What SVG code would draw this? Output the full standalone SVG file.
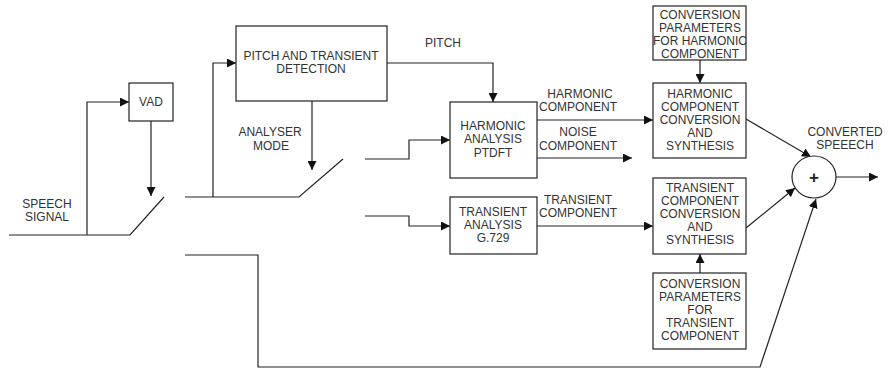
<svg xmlns="http://www.w3.org/2000/svg" width="891" height="372" viewBox="0 0 891 372">
<defs>
<marker id="arr" viewBox="0 0 10 10" refX="10" refY="5" markerWidth="9" markerHeight="9" markerUnits="userSpaceOnUse" orient="auto">
<path d="M0,0 L10,5 L0,10 Z" fill="#111"/>
</marker>
</defs>
<style>
rect.box{fill:#fff;stroke:#222;stroke-width:1.2}
.ln{fill:none;stroke:#222;stroke-width:1.2}
.ar{fill:none;stroke:#222;stroke-width:1.2;marker-end:url(#arr)}
text{font-family:"Liberation Sans",Arial,sans-serif;font-size:12px;fill:#333;text-anchor:middle}
</style>
<rect width="891" height="372" fill="#fff"/>
<g id="connectors">
<path class="ln" d="M9,235 H130 L164,197"/>
<path class="ar" d="M87,235 V102 H129"/>
<path class="ar" d="M151,121 V196"/>
<path class="ln" d="M185,197 H299 L343,159"/>
<path class="ar" d="M213,197 V63 H236"/>
<path class="ar" d="M312,101 V170"/>
<path class="ar" d="M387,63 H493 V102"/>
<path class="ar" d="M365,159 H409 V140 H450"/>
<path class="ar" d="M365,216 H409 V226 H450"/>
<path class="ar" d="M537,120 H653"/>
<path class="ar" d="M537,158 H632"/>
<path class="ar" d="M537,226 H653"/>
<path class="ar" d="M700,60 V83"/>
<path class="ar" d="M700,273 V254"/>
<path class="ar" d="M746,119 L811,157"/>
<path class="ar" d="M746,228 L795,188"/>
<path class="ar" d="M185,255 H258 V367 H760 L816,199"/>
<path class="ar" d="M836,177 H878"/>
</g>
<g id="speech-label"><text x="47" y="208">SPEECH</text><text x="47" y="221">SIGNAL</text></g>
<g id="vad"><rect class="box" x="129" y="83" width="44" height="38"/><text x="151" y="106">VAD</text></g>
<g id="pitch-detection"><rect class="box" x="236" y="26" width="151" height="75"/><text x="311" y="60">PITCH AND TRANSIENT</text><text x="311" y="73">DETECTION</text></g>
<g id="analyser-mode"><text x="270" y="136">ANALYSER</text><text x="271" y="150">MODE</text></g>
<g id="pitch-label"><text x="443" y="47">PITCH</text></g>
<g id="harmonic-analysis"><rect class="box" x="450" y="102" width="87" height="76"/><text x="493" y="130">HARMONIC</text><text x="493" y="143">ANALYSIS</text><text x="493" y="157">PTDFT</text></g>
<g id="transient-analysis"><rect class="box" x="450" y="197" width="87" height="57"/><text x="493" y="216">TRANSIENT</text><text x="493" y="229">ANALYSIS</text><text x="493" y="242">G.729</text></g>
<g id="harmonic-comp-label"><text x="580" y="98">HARMONIC</text><text x="578" y="111">COMPONENT</text></g>
<g id="noise-comp-label"><text x="578" y="136">NOISE</text><text x="578" y="150">COMPONENT</text></g>
<g id="transient-comp-label"><text x="578" y="204">TRANSIENT</text><text x="578" y="217">COMPONENT</text></g>
<g id="conv-params-harmonic"><rect class="box" x="653" y="6" width="93" height="54"/><text x="700" y="19">CONVERSION</text><text x="700" y="32">PARAMETERS</text><text x="700" y="45">FOR HARMONIC</text><text x="700" y="58">COMPONENT</text></g>
<g id="harmonic-conversion"><rect class="box" x="653" y="83" width="93" height="75"/><text x="700" y="98">HARMONIC</text><text x="700" y="111">COMPONENT</text><text x="700" y="124">CONVERSION</text><text x="700" y="137">AND</text><text x="700" y="150">SYNTHESIS</text></g>
<g id="transient-conversion"><rect class="box" x="653" y="178" width="93" height="76"/><text x="700" y="192">TRANSIENT</text><text x="700" y="205">COMPONENT</text><text x="700" y="218">CONVERSION</text><text x="700" y="231">AND</text><text x="700" y="244">SYNTHESIS</text></g>
<g id="conv-params-transient"><rect class="box" x="653" y="273" width="93" height="76"/><text x="700" y="288">CONVERSION</text><text x="700" y="301">PARAMETERS</text><text x="700" y="314">FOR</text><text x="700" y="327">TRANSIENT</text><text x="700" y="340">COMPONENT</text></g>
<g id="adder"><ellipse cx="814" cy="177" rx="22" ry="21" fill="#fff" stroke="#222" stroke-width="1.2"/><text x="814" y="183" style="font-size:17px;font-weight:bold;fill:#222">+</text></g>
<g id="converted-label"><text x="845" y="136">CONVERTED</text><text x="845" y="149">SPEEECH</text></g>
</svg>
